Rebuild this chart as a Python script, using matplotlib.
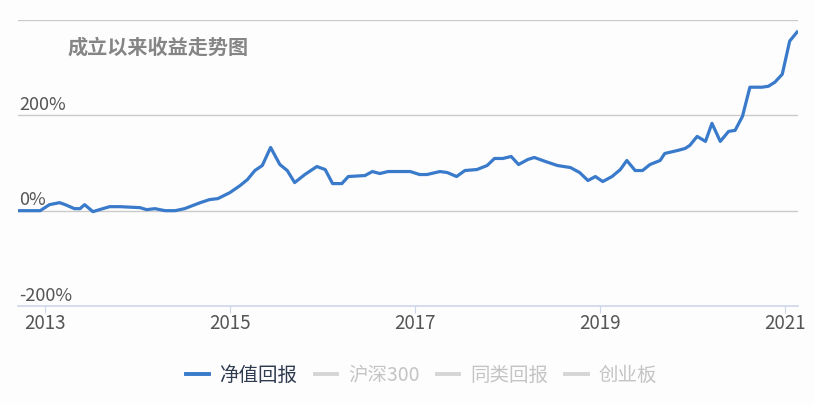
import matplotlib.pyplot as plt
from matplotlib.lines import Line2D
from matplotlib.transforms import blended_transform_factory

plt.rcParams['font.family'] = ['Noto Sans CJK SC', 'DejaVu Sans']

# decimal year, cumulative return (%)
years = [2012.71, 2012.95, 2013.05, 2013.16, 2013.22, 2013.32, 2013.38, 2013.43, 2013.52,
         2013.59, 2013.70, 2013.81, 2014.03, 2014.10, 2014.19, 2014.30, 2014.41, 2014.51,
         2014.68, 2014.78, 2014.87, 2015.00, 2015.11, 2015.19, 2015.27, 2015.35, 2015.44,
         2015.54, 2015.62, 2015.70, 2015.81, 2015.94, 2016.03, 2016.11, 2016.21, 2016.28,
         2016.46, 2016.54, 2016.62, 2016.71, 2016.95, 2017.05, 2017.13, 2017.27, 2017.35,
         2017.45, 2017.54, 2017.67, 2017.78, 2017.86, 2017.95, 2018.04, 2018.12, 2018.22,
         2018.29, 2018.41, 2018.54, 2018.68, 2018.78, 2018.87, 2018.95, 2019.03, 2019.13,
         2019.22, 2019.29, 2019.38, 2019.46, 2019.54, 2019.65, 2019.70, 2019.84, 2019.92,
         2019.97, 2020.05, 2020.14, 2020.21, 2020.30, 2020.39, 2020.46, 2020.54, 2020.62,
         2020.75, 2020.82, 2020.89, 2020.97, 2021.05, 2021.13]
returns = [0, 0, 12.6, 16.8, 12.6, 4.2, 4.2, 12.6, -2.1,
           2.1, 8.4, 8.4, 6.3, 2.1, 4.2, 0, 0, 4.2,
           16.8, 23.2, 25.3, 37.9, 52.6, 65.3, 84.2, 94.7, 132.6,
           96.8, 84.2, 58.9, 75.8, 92.6, 86.3, 56.8, 56.8, 71.6,
           73.7, 82.1, 77.9, 82.1, 82.1, 75.8, 75.8, 82.1, 80,
           71.6, 84.2, 86.3, 94.7, 109.5, 109.5, 113.7, 96.8, 107.4,
           111.6, 103.2, 94.7, 90.5, 80, 63.2, 71.6, 61.1, 71.6,
           86.3, 105.3, 84.2, 84.2, 96.8, 105.3, 120, 126.3, 130.5,
           136.8, 155.8, 145.3, 183.2, 145.3, 166.3, 168.4, 197.9, 259,
           259, 261, 269.5, 286.3, 355.8, 374.7]

x_ticks = [2013, 2015, 2017, 2019, 2021]
y_ticks = [-200, 0, 200, 400]
y_labels = ['-200%', '0%', '200%', '']
legend_names = ['净值回报', '沪深300', '同类回报', '创业板']

fig = plt.figure(figsize=(8.14, 4.04), dpi=100, facecolor='#fdfdfd')
ax = fig.add_axes([18 / 814, 1 - 306 / 404, 780 / 814, 286 / 404])
ax.set_facecolor('#fdfdfd')

ax.plot(years, returns, color='#3a7acb', linewidth=2.3, zorder=3)

ax.set_xlim(2012.71, 2021.14)
ax.set_ylim(-200, 400)
for v in y_ticks[1:]:
    ax.axhline(v, color='#cacaca', linewidth=1, zorder=1)

for s in ['top', 'right', 'left']:
    ax.spines[s].set_visible(False)
ax.spines['bottom'].set_color('#ccd6eb')
ax.spines['bottom'].set_linewidth(1.2)

ax.set_yticks([])
ax.set_xticks(x_ticks)
ax.set_xticklabels([str(y) for y in x_ticks], fontsize=13.5, color='#555555')
ax.tick_params(axis='x', length=5, color='#ccd6eb', pad=0)

trans = blended_transform_factory(ax.transAxes, ax.transData)
for v, lab in zip(y_ticks, y_labels):
    ax.annotate(lab, xy=(0.002, v), xycoords=trans, xytext=(0, 1), textcoords='offset points',
                ha='left', va='bottom', fontsize=13, color='#555555')

fig.text(68 / 814, 1 - 47 / 404, '成立以来收益走势图', fontsize=14.5, color='#858585',
         fontweight='bold', ha='left', va='center')

handles = [Line2D([], [], color='#3a7acb', linewidth=2.8)]
handles += [Line2D([], [], color='#d5d5d5', linewidth=2.8) for _ in range(3)]
leg = fig.legend(handles, legend_names, loc='center', bbox_to_anchor=(0.518, 1 - 375 / 404),
                 ncol=4, frameon=False, fontsize=14, handlelength=1.15, handletextpad=0.55,
                 columnspacing=0.9)
for i, t in enumerate(leg.get_texts()):
    t.set_color('#2e3a4e' if i == 0 else '#c4c4c4')

fig.savefig('out.png', dpi=100, facecolor=fig.get_facecolor())
